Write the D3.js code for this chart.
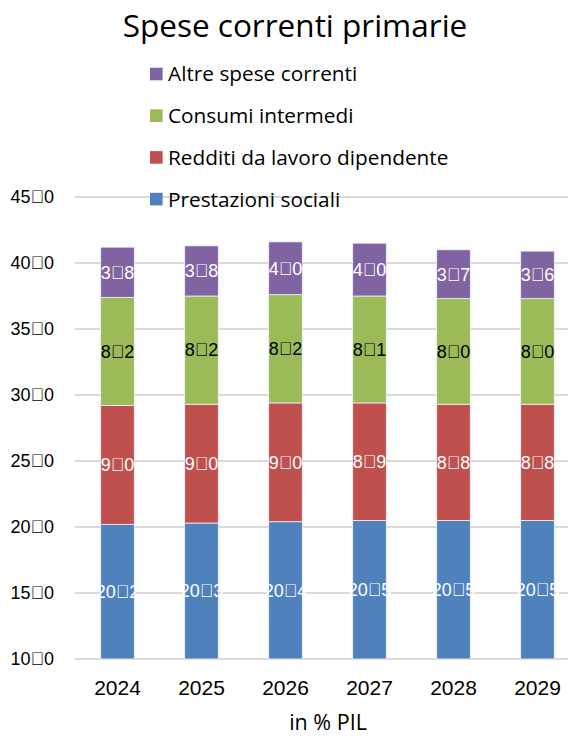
<!DOCTYPE html>
<html>
<head>
<meta charset="utf-8">
<script src="https://cdn.jsdelivr.net/npm/d3@7"></script>
<style>
  html, body { margin: 0; padding: 0; background: #fff; }
  svg { display: block; }
  .words { font-family: "Open Sans", "Liberation Sans", Arial, sans-serif; }
  .nums { font-family: "Liberation Sans", Arial, sans-serif; }
</style>
</head>
<body>
<svg id="chart" width="568" height="736"></svg>
<script>
// Spese correnti primarie, in % PIL
const years = ["2024", "2025", "2026", "2027", "2028", "2029"];
const prestazioniSociali = [20.2, 20.3, 20.4, 20.5, 20.5, 20.5];
const redditiLavoro = [9.0, 9.0, 9.0, 8.9, 8.8, 8.8];
const consumiIntermedi = [8.2, 8.2, 8.2, 8.1, 8.0, 8.0];
const altreSpese = [3.8, 3.8, 4.0, 4.0, 3.7, 3.6];
const yTicks = [10, 15, 20, 25, 30, 35, 40, 45];
const seriesNames = ["Prestazioni sociali", "Redditi da lavoro dipendente", "Consumi intermedi", "Altre spese correnti"];
const seriesColors = ["#4f81bd", "#c0504d", "#9bbb59", "#8064a2"];
const labelColors = ["#ffffff", "#ffffff", "#000000", "#ffffff"];

// decimal separator as it comes out of the source workbook font
const SEP = "\uE000";
const fmt = v => v.toFixed(1).replace(".", SEP);

const seriesValues = [prestazioniSociali, redditiLavoro, consumiIntermedi, altreSpese];
const rows = years.map((y, i) => {
  const r = { year: y };
  seriesNames.forEach((n, k) => r[n] = seriesValues[k][i]);
  return r;
});

const svg = d3.select("#chart");
const baseline = 10;

const x = d3.scaleBand().domain(years).range([75.5, 579.5]).paddingInner(0.6).paddingOuter(0.3);
const y = d3.scaleLinear().domain([10, 45]).range([659, 197]);

// gridlines
svg.append("g").selectAll("line").data(yTicks).join("line")
  .attr("x1", 75).attr("x2", 568)
  .attr("y1", d => y(d)).attr("y2", d => y(d))
  .attr("stroke", "#d9d9d9").attr("stroke-width", 2);

// y axis labels
const yAxis = d3.axisLeft(y).tickValues(yTicks).tickSize(0).tickPadding(0).tickFormat(fmt);
const gy = svg.append("g").attr("transform", "translate(54,0)").call(yAxis);
gy.select(".domain").remove();
gy.attr("font-family", null).attr("font-size", null);
gy.selectAll("text").attr("class", "nums").attr("font-size", 18).attr("fill", "#000");

// stacked bars
const stacked = d3.stack().keys(seriesNames)(rows);
const bw = 33.6;
const cx = d => x(d) + x.bandwidth() / 2;

stacked.forEach((layer, k) => {
  const g = svg.append("g");
  g.selectAll("rect").data(layer).join("rect")
    .attr("x", d => cx(d.data.year) - bw / 2)
    .attr("width", bw)
    .attr("y", d => y(d[1]))
    .attr("height", d => y(k === 0 ? baseline : d[0]) - y(d[1]))
    .attr("fill", seriesColors[k])
    .attr("stroke", "#eef2f8").attr("stroke-width", 0.8);
  g.selectAll("text").data(layer).join("text")
    .attr("class", "nums")
    .attr("x", d => cx(d.data.year))
    .attr("y", d => (y(k === 0 ? baseline : d[0]) + y(d[1])) / 2)
    .attr("dy", "0.35em")
    .attr("text-anchor", "middle")
    .attr("font-size", 18)
    .attr("fill", labelColors[k])
    .text(d => fmt(d.data[seriesNames[k]]));
});

// x axis labels
const xAxis = d3.axisBottom(x).tickSize(0).tickPadding(0);
const gx = svg.append("g").attr("transform", "translate(0,695)").call(xAxis);
gx.select(".domain").remove();
gx.attr("font-family", null).attr("font-size", null);
gx.selectAll("text").attr("class", "nums").attr("font-size", 21).attr("fill", "#000").attr("dy", 0);

// axis title
svg.append("text").attr("class", "words").attr("x", 328).attr("y", 730).attr("text-anchor", "middle")
  .attr("font-size", 21.5).text("in % PIL");

// chart title
svg.append("text").attr("class", "words").attr("x", 295).attr("y", 37).attr("text-anchor", "middle")
  .attr("font-size", 31.5).text("Spese correnti primarie");

// legend, top entry is the top of the stack
const legendOrder = [3, 2, 1, 0];
const lg = svg.append("g");
legendOrder.forEach((k, i) => {
  const ly = 74 + i * 41.7;
  lg.append("rect").attr("x", 150).attr("y", ly - 6.3).attr("width", 12.6).attr("height", 12.6).attr("fill", seriesColors[k]);
  lg.append("text").attr("class", "words").attr("x", 168).attr("y", ly).attr("dy", "0.36em").attr("font-size", 20.8).text(seriesNames[k]);
});
</script>
</body>
</html>
